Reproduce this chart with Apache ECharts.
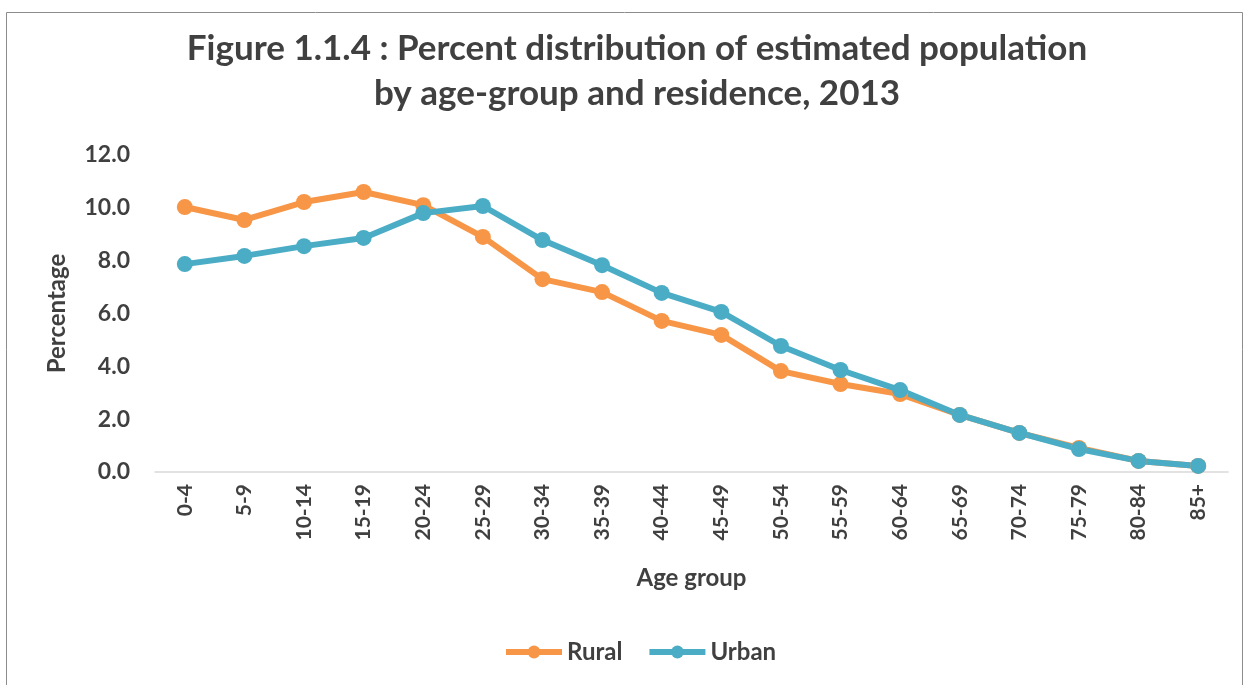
<!DOCTYPE html>
<html>
<head>
<meta charset="utf-8">
<script src="https://cdn.jsdelivr.net/npm/echarts@6/dist/echarts.min.js"></script>
<style>
html,body{margin:0;padding:0;background:#fff;}
#chart{width:1246px;height:685px;}
</style>
</head>
<body>
<div id="chart"></div>
<script>
const categories = ['0-4','5-9','10-14','15-19','20-24','25-29','30-34','35-39','40-44','45-49','50-54','55-59','60-64','65-69','70-74','75-79','80-84','85+'];
const rural = [10.03, 9.54, 10.22, 10.6, 10.1, 8.9, 7.3, 6.81, 5.72, 5.19, 3.82, 3.33, 2.95, 2.16, 1.48, 0.91, 0.42, 0.23];
const urban = [7.87, 8.18, 8.55, 8.86, 9.8, 10.07, 8.78, 7.83, 6.78, 6.06, 4.77, 3.86, 3.1, 2.16, 1.48, 0.87, 0.42, 0.23];
const yTicks = [0, 2, 4, 6, 8, 10, 12];

const FONT = 'Lato';
const TXT = '#404040';

const chart = echarts.init(document.getElementById('chart'));
chart.setOption({
  animation: false,
  backgroundColor: '#fff',
  graphic: [{
    type: 'rect', left: 4, top: 10,
    shape: {width: 1236, height: 700},
    style: {fill: 'none', stroke: '#8c8c8c', lineWidth: 1}
  }],
  title: {
    text: 'Figure 1.1.4 : Percent distribution of estimated population\nby age-group and residence, 2013',
    left: 632, top: 21, textAlign: 'center',
    textStyle: {fontFamily: FONT, fontWeight: 'bold', fontSize: 35, color: TXT, lineHeight: 45}
  },
  legend: {
    bottom: 16, left: 498,
    itemWidth: 56, itemHeight: 16, itemGap: 24,
    lineStyle: {width: 6},
    textStyle: {fontFamily: FONT, fontWeight: 'bold', fontSize: 24, color: TXT},
    data: ['Rural', 'Urban']
  },
  grid: {left: 155, right: 18, top: 155, bottom: 213},
  xAxis: {
    type: 'category', data: categories, boundaryGap: true,
    name: 'Age group', nameLocation: 'middle', nameGap: 94,
    nameTextStyle: {fontFamily: FONT, fontWeight: 'bold', fontSize: 24, color: TXT},
    axisLine: {lineStyle: {color: '#D9D9D9', width: 1.5}},
    axisTick: {show: false},
    axisLabel: {rotate: 90, fontFamily: FONT, fontWeight: 'bold', fontSize: 21, color: TXT, margin: 12, interval: 0}
  },
  yAxis: {
    type: 'value', min: yTicks[0], max: yTicks[yTicks.length-1], interval: 2,
    name: 'Percentage', nameLocation: 'middle', nameGap: 86,
    nameTextStyle: {fontFamily: FONT, fontWeight: 'bold', fontSize: 24, color: TXT},
    axisLine: {show: false}, axisTick: {show: false},
    splitLine: {show: false},
    axisLabel: {fontFamily: FONT, fontWeight: 'bold', fontSize: 23, color: TXT, margin: 25,
      formatter: v => v.toFixed(1)}
  },
  series: [
    {name: 'Rural', type: 'line', data: rural, symbol: 'circle', symbolSize: 16,
     itemStyle: {color: '#F79646'}, lineStyle: {color: '#F79646', width: 6}},
    {name: 'Urban', type: 'line', data: urban, symbol: 'circle', symbolSize: 16,
     itemStyle: {color: '#4BACC6'}, lineStyle: {color: '#4BACC6', width: 6}}
  ]
});
</script>
</body>
</html>
